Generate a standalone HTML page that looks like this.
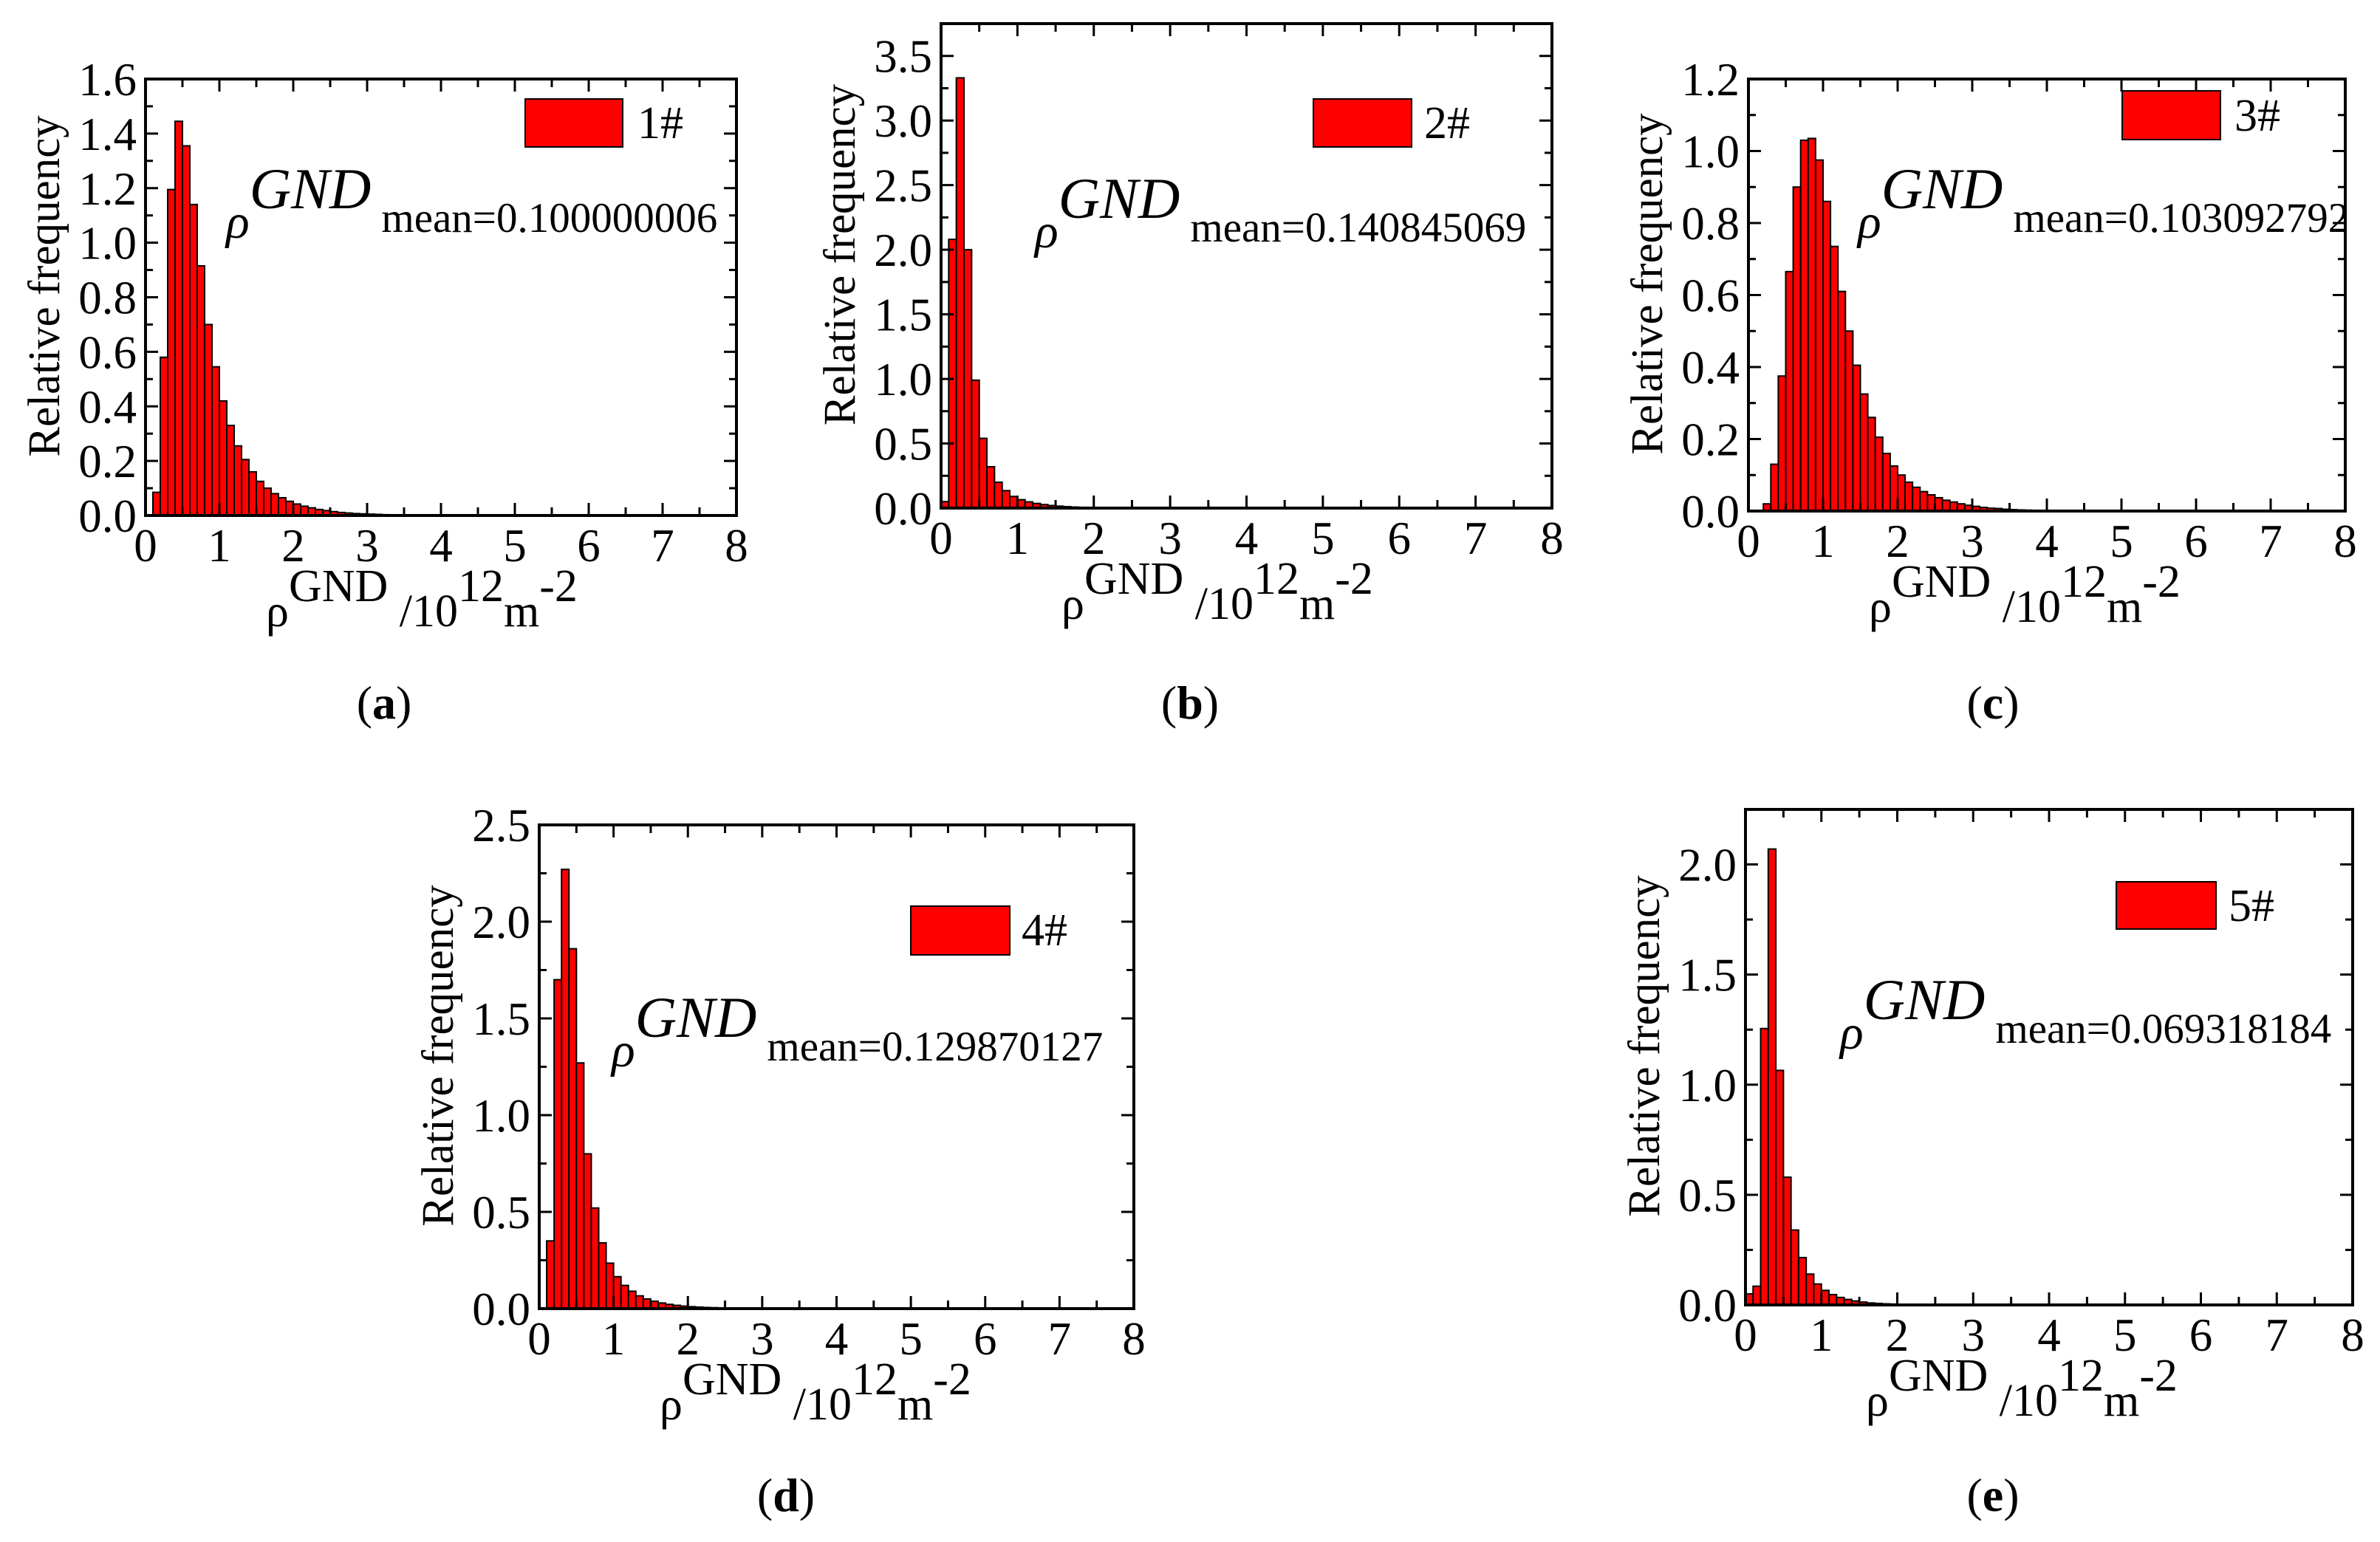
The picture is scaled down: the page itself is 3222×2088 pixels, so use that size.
<!DOCTYPE html>
<html><head><meta charset="utf-8"><style>
html,body{margin:0;padding:0;background:#fff;}
svg{display:block;font-family:"Liberation Serif","Times New Roman",serif;}
</style></head><body>
<svg id="fig" width="3222" height="2088" viewBox="0 0 3222 2088" xmlns="http://www.w3.org/2000/svg"></svg>
<script>
// Data (bin width 0.1, first bin start, relative frequency values)
const binWidth = 0.1;
const startA = 0.1;
const valuesA = [0.085,0.58,1.195,1.445,1.355,1.14,0.915,0.70,0.545,0.42,0.33,0.255,0.205,0.16,0.125,0.10,0.08,0.065,0.052,0.042,0.034,0.028,0.022,0.018,0.014,0.011,0.009,0.007,0.006,0.005,0.004,0.003,0.0025,0.002,0.0015,0.001];
const startB = 0.0;
const valuesB = [0.05,2.08,3.33,2.0,0.99,0.54,0.32,0.20,0.135,0.09,0.065,0.048,0.036,0.027,0.02,0.015,0.011,0.008,0.006,0.005,0.004,0.003,0.002,0.0015,0.001];
const startC = 0.2;
const valuesC = [0.02,0.13,0.375,0.665,0.90,1.03,1.035,0.975,0.86,0.735,0.61,0.50,0.405,0.325,0.26,0.205,0.16,0.125,0.10,0.08,0.066,0.054,0.045,0.037,0.03,0.025,0.02,0.016,0.013,0.01,0.008,0.007,0.005,0.004,0.003,0.0025,0.002,0.0015,0.001];
const startD = 0.1;
const valuesD = [0.35,1.70,2.27,1.86,1.27,0.80,0.52,0.34,0.235,0.165,0.12,0.09,0.066,0.05,0.038,0.029,0.022,0.017,0.013,0.01,0.008,0.006,0.005,0.004,0.003,0.002,0.0015,0.001];
const startE = 0.0;
const valuesE = [0.05,0.085,1.255,2.07,1.065,0.58,0.34,0.215,0.14,0.095,0.066,0.047,0.034,0.025,0.018,0.013,0.009,0.007,0.005,0.004,0.003,0.002,0.0015,0.001];
const xTickLabels = ["0","1","2","3","4","5","6","7","8"];
const yTicksA = ["0.0","0.2","0.4","0.6","0.8","1.0","1.2","1.4","1.6"];
const yTicksB = ["0.0","0.5","1.0","1.5","2.0","2.5","3.0","3.5"];
const yTicksC = ["0.0","0.2","0.4","0.6","0.8","1.0","1.2"];
const yTicksD = ["0.0","0.5","1.0","1.5","2.0","2.5"];
const yTicksE = ["0.0","0.5","1.0","1.5","2.0"];
const legendLabels = ["1#","2#","3#","4#","5#"];
const meanLabels = ["mean=0.100000006","mean=0.140845069","mean=0.103092792","mean=0.129870127","mean=0.069318184"];
const panelLetters = ["a","b","c","d","e"];

const NS = "http://www.w3.org/2000/svg";
const svg = document.getElementById('fig');
function mk(tag, attrs, parent){const e=document.createElementNS(NS,tag);for(const k in attrs)e.setAttribute(k,attrs[k]);(parent||svg).appendChild(e);return e;}

const panels = [
 {L:197,R:997,T:107,B:698,ymax:1.6,ystep:0.2,start:startA,vals:valuesA,yt:yTicksA,leg:[711,134,132,65],legT:[863,187],mean:[306,314],lab:[520,973]},
 {L:1274,R:2101,T:32,B:688,ymax:3.75,ystep:0.5,start:startB,vals:valuesB,yt:yTicksB,leg:[1778,134,133,65],legT:[1928,187],mean:[1401,327],lab:[1611,973]},
 {L:2367,R:3175,T:107,B:692,ymax:1.2,ystep:0.2,start:startC,vals:valuesC,yt:yTicksC,leg:[2873,123,133,66],legT:[3025,177],mean:[2515,314],lab:[2698,973]},
 {L:730,R:1535,T:1117,B:1772,ymax:2.5,ystep:0.5,start:startD,vals:valuesD,yt:yTicksD,leg:[1233,1227,134,66],legT:[1383,1280],mean:[828,1436],lab:[1064,2046]},
 {L:2363,R:3185,T:1096,B:1767,ymax:2.25,ystep:0.5,start:startE,vals:valuesE,yt:yTicksE,leg:[2865,1194,135,64],legT:[3017,1247],mean:[2491,1412],lab:[2698,2046]}
];

panels.forEach((p,i)=>{
  const g = mk('g',{});
  
  
  const xs = v => p.L + (v/8)*(p.R-p.L);
  const ys = v => p.B - (v/p.ymax)*(p.B-p.T);
  p.vals.forEach((v,j)=>{
    const x0 = xs(p.start + j*binWidth), x1 = xs(p.start + (j+1)*binWidth);
    const r = mk('rect',{x:x0,y:ys(v),width:x1-x0,height:p.B-ys(v),fill:'#ff0000',stroke:'#000','stroke-width':2},g);
    
    
  });
  const fr = mk('rect',{x:p.L,y:p.T,width:p.R-p.L,height:p.B-p.T,fill:'none',stroke:'#000','stroke-width':4},g);
  
  
  for(let k=0;k<=16;k++){
    const v=k*0.5, x=xs(v), len = (k%2===0)?17:11;
    mk('line',{x1:x,y1:p.B,x2:x,y2:p.B-len,stroke:'#000','stroke-width':3},g);
    mk('line',{x1:x,y1:p.T,x2:x,y2:p.T+len,stroke:'#000','stroke-width':3},g);
  }
  xTickLabels.forEach((t,k)=>{
    const tx = mk('text',{x:xs(k),y:p.B+62,'font-size':63,'text-anchor':'middle'},g);
    tx.textContent=t;
    
    
  });
  const nMinor = Math.floor(p.ymax/(p.ystep/2)+1e-6);
  for(let k=0;k<=nMinor;k++){
    const v=k*p.ystep/2, y=ys(v), major=(k%2===0), len=major?17:10;
    mk('line',{x1:p.L,y1:y,x2:p.L+len,y2:y,stroke:'#000','stroke-width':3},g);
    mk('line',{x1:p.R,y1:y,x2:p.R-len,y2:y,stroke:'#000','stroke-width':3},g);
  }
  p.yt.forEach((t,k)=>{
    const ty = mk('text',{x:p.L-12,y:ys(k*p.ystep)+22,'font-size':63,'text-anchor':'end'},g);
    ty.textContent=t;
    
    
  });
  const cy=(p.T+p.B)/2 - 15, cx=p.L-138;
  const yt = mk('text',{x:cx,y:cy,'font-size':61,'text-anchor':'middle',transform:`rotate(-90 ${cx} ${cy})`,dy:21},g);
  yt.textContent='Relative frequency';
  
  
  const xt = mk('text',{x:p.L+163,y:p.B+150,'font-size':62},g);
  
  
  xt.innerHTML='ρ<tspan dy="-34">GND</tspan><tspan dy="34"> /10</tspan><tspan dy="-34">12</tspan><tspan dy="34">m</tspan><tspan dy="-34">-2</tspan>';
  const lb = mk('rect',{x:p.leg[0],y:p.leg[1],width:p.leg[2],height:p.leg[3],fill:'#ff0000',stroke:'#000','stroke-width':2},g);
  
  
  const lt = mk('text',{x:p.legT[0],y:p.legT[1],'font-size':62},g);
  lt.textContent=legendLabels[i];
  
  
  const mt = mk('text',{x:p.mean[0],y:p.mean[1]+8,'font-size':66},g);
  
  
  mt.innerHTML='<tspan font-style="italic">ρ</tspan><tspan font-style="italic" font-size="78" dy="-40">GND</tspan><tspan font-size="57" dx="14" dy="32">'+meanLabels[i]+'</tspan>';
  const pl = mk('text',{x:p.lab[0],y:p.lab[1],'font-size':64,'text-anchor':'middle'},g);
  
  
  pl.innerHTML='(<tspan font-weight="bold">'+panelLetters[i]+'</tspan>)';
});
</script>
</body></html>
